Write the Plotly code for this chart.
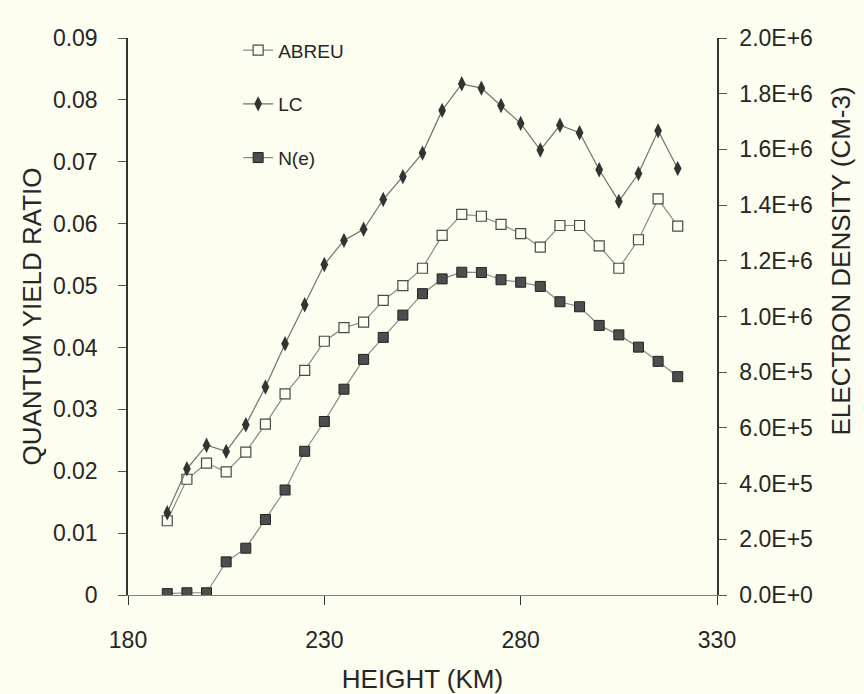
import plotly.graph_objects as go

# Height grid (km)
height_km = [190, 195, 200, 205, 210, 215, 220, 225, 230, 235, 240, 245, 250, 255,
             260, 265, 270, 275, 280, 285, 290, 295, 300, 305, 310, 315, 320]

# Quantum yield ratio, ABREU
abreu = [0.0120, 0.0187, 0.0213, 0.0199, 0.0231, 0.0276, 0.0325, 0.0363, 0.0410,
         0.0432, 0.0441, 0.0476, 0.0500, 0.0528, 0.0581, 0.0615, 0.0612, 0.0599,
         0.0584, 0.0562, 0.0597, 0.0597, 0.0564, 0.0528, 0.0574, 0.0640, 0.0596]

# Quantum yield ratio, LC
lc = [0.0133, 0.0204, 0.0242, 0.0232, 0.0275, 0.0336, 0.0406, 0.0469, 0.0534,
      0.0573, 0.0591, 0.0639, 0.0676, 0.0714, 0.0783, 0.0826, 0.0819, 0.0791,
      0.0762, 0.0719, 0.0759, 0.0747, 0.0687, 0.0636, 0.0681, 0.0750, 0.0689]

# Electron density N(e), cm^-3
ne = [5e3, 8e3, 8e3, 1.19e5, 1.68e5, 2.71e5, 3.77e5, 5.16e5, 6.23e5, 7.39e5,
      8.46e5, 9.25e5, 1.005e6, 1.082e6, 1.135e6, 1.159e6, 1.158e6, 1.132e6,
      1.123e6, 1.108e6, 1.053e6, 1.035e6, 9.68e5, 9.34e5, 8.90e5, 8.39e5, 7.84e5]

# Axis ticks
x_ticks = [180, 230, 280, 330]
qy_ticks = [0, 0.01, 0.02, 0.03, 0.04, 0.05, 0.06, 0.07, 0.08, 0.09]
ne_tick_vals = [0, 2e5, 4e5, 6e5, 8e5, 1e6, 1.2e6, 1.4e6, 1.6e6, 1.8e6, 2e6]
ne_tick_text = ["0.0E+0", "2.0E+5", "4.0E+5", "6.0E+5", "8.0E+5", "1.0E+6",
                "1.2E+6", "1.4E+6", "1.6E+6", "1.8E+6", "2.0E+6"]

BG = "#fdfdf0"
INK = "#262626"
FONT = "Liberation Sans, Arial, sans-serif"

fig = go.Figure()

fig.add_trace(go.Scatter(
    x=height_km, y=abreu, name="ABREU", mode="lines+markers",
    line=dict(color="#8a8a8a", width=1.2),
    marker=dict(symbol="square", size=10, color=BG,
                line=dict(color="#4a4a4a", width=1.2)),
    legendgroup="a",
))
fig.add_trace(go.Scatter(
    x=height_km, y=lc, name="LC", mode="lines+markers",
    line=dict(color="#707070", width=1.2),
    marker=dict(symbol="diamond-tall", size=11, color="#333333"),
    legendgroup="b",
))
fig.add_trace(go.Scatter(
    x=height_km, y=ne, name="N(e)", mode="lines+markers", yaxis="y2",
    line=dict(color="#8a8a8a", width=1.2),
    marker=dict(symbol="square", size=10, color="#4d4d4d",
                line=dict(color="#222222", width=1)),
    legendgroup="c",
))

tickfont = dict(family=FONT, size=23, color=INK)
titlefont = dict(family=FONT, size=26, color=INK)

fig.update_layout(
    width=864, height=694,
    margin=dict(l=128, r=147, t=38, b=99, autoexpand=False),
    paper_bgcolor=BG, plot_bgcolor=BG,
    font=dict(family=FONT, color=INK),
    showlegend=True,
    legend=dict(
        x=0.187, y=1.012, xanchor="left", yanchor="top",
        bgcolor="rgba(0,0,0,0)", borderwidth=0,
        font=dict(family=FONT, size=19, color=INK),
        tracegroupgap=26,
    ),
    xaxis=dict(
        range=[180, 330], tickmode="array", tickvals=x_ticks,
        ticks="outside", ticklen=9, tickwidth=1.2, tickcolor="#333",
        showline=True, linecolor="#808080", linewidth=1.3,
        showgrid=False, zeroline=False, automargin=False,
        tickfont=tickfont, ticklabelstandoff=15,
        title=dict(text="HEIGHT (KM)", font=titlefont, standoff=20),
    ),
    xaxis2=dict(
        overlaying="x", anchor="y", side="bottom",
        range=[180, 330], tickmode="array", tickvals=x_ticks,
        ticks="inside", ticklen=9, tickwidth=1.2, tickcolor="#333",
        showticklabels=False, showline=False, showgrid=False, zeroline=False,
        automargin=False,
    ),
    yaxis=dict(
        range=[0, 0.09], tickmode="array", tickvals=qy_ticks,
        ticks="outside", ticklen=8, tickwidth=1, tickcolor="#555",
        showline=True, linecolor="#333", linewidth=1.5,
        showgrid=False, zeroline=False, automargin=False,
        tickfont=tickfont, ticklabelstandoff=16,
        title=dict(text="QUANTUM YIELD RATIO", font=titlefont, standoff=4),
    ),
    yaxis2=dict(
        overlaying="y", side="right", anchor="x",
        range=[0, 2e6], tickmode="array", tickvals=ne_tick_vals,
        ticktext=ne_tick_text,
        ticks="outside", ticklen=8, tickwidth=1, tickcolor="#555",
        showline=True, linecolor="#333", linewidth=1.5,
        showgrid=False, zeroline=False, automargin=False,
        tickfont=tickfont, ticklabelstandoff=8,
    ),
    yaxis3=dict(
        overlaying="y", side="left", anchor="x",
        range=[0, 0.09], tickmode="array", tickvals=qy_ticks,
        ticks="inside", ticklen=8, tickwidth=1, tickcolor="#555",
        showticklabels=False, showline=False, showgrid=False, zeroline=False,
        automargin=False,
    ),
    yaxis4=dict(
        overlaying="y", side="right", anchor="x",
        range=[0, 2e6], tickmode="array", tickvals=ne_tick_vals,
        ticks="inside", ticklen=8, tickwidth=1, tickcolor="#555",
        showticklabels=False, showline=False, showgrid=False, zeroline=False,
        automargin=False,
    ),
    annotations=[dict(
        text="ELECTRON DENSITY (CM-3)", textangle=-90,
        xref="paper", yref="paper", x=1.21, y=0.6,
        xanchor="center", yanchor="middle", showarrow=False,
        font=titlefont,
    )],
)

fig.write_html("out.html")
